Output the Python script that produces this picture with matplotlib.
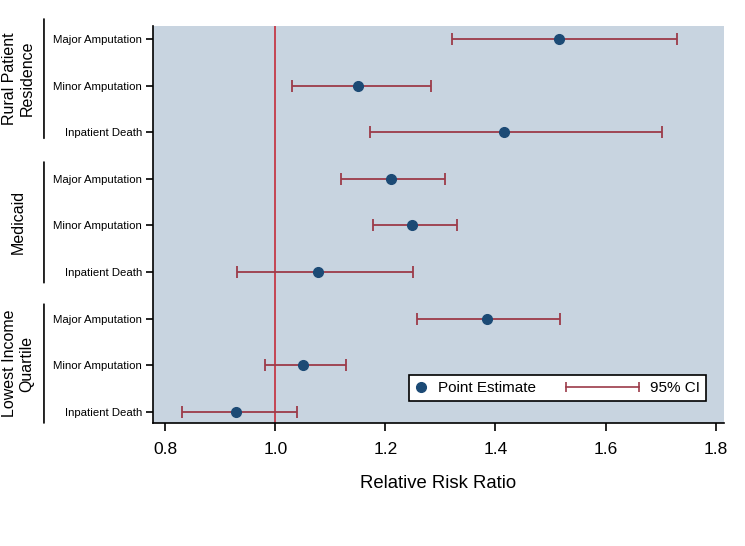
import matplotlib.pyplot as plt
from matplotlib.lines import Line2D
from matplotlib.legend_handler import HandlerBase

plt.rcParams["font.family"] = ["Liberation Sans", "DejaVu Sans"]

# rows from top to bottom
groups = ["Rural Patient\nResidence", "Medicaid", "Lowest Income\nQuartile"]
outcomes = ["Major Amputation", "Minor Amputation", "Inpatient Death"]

estimate = [1.515, 1.150, 1.416,
            1.210, 1.249, 1.078,
            1.384, 1.050, 0.928]
ci_low = [1.321, 1.031, 1.172,
          1.120, 1.178, 0.930,
          1.258, 0.981, 0.831]
ci_high = [1.730, 1.282, 1.702,
           1.308, 1.330, 1.250,
           1.517, 1.129, 1.040]

x_ticks = [0.8, 1.0, 1.2, 1.4, 1.6, 1.8]

BG = "#c8d4e0"
CI_COLOR = "#9c3b49"
REF_COLOR = "#c43a48"
DOT_COLOR = "#1c4a75"


class CIHandler(HandlerBase):
    # long capped line that reaches left past the small handle box
    def create_artists(self, legend, orig_handle, xdescent, ydescent,
                       width, height, fontsize, trans):
        x1 = width - xdescent
        x0 = x1 - 52
        y = height / 2 - ydescent
        line = Line2D([x0, x1], [y, y], color=CI_COLOR, linewidth=1.2)
        caps = Line2D([x0, x1], [y, y], linestyle="none", marker="|",
                      markersize=7, markeredgewidth=1.2, color=CI_COLOR)
        line.set_transform(trans)
        caps.set_transform(trans)
        return [line, caps]


n = len(estimate)
ypos = list(range(n, 0, -1))
labels = outcomes * len(groups)

fig = plt.figure(figsize=(7.45, 5.46), dpi=100)
ax = fig.add_axes([0.2054, 0.2253, 0.7664, 0.7271])
ax.set_facecolor(BG)

ax.axvline(1.0, color=REF_COLOR, linewidth=1.3, zorder=1)

xerr = [[e - lo for e, lo in zip(estimate, ci_low)],
        [hi - e for e, hi in zip(estimate, ci_high)]]
ci = ax.errorbar(estimate, ypos, xerr=xerr, fmt="none",
                 ecolor=CI_COLOR, elinewidth=1.3, capsize=4.5,
                 capthick=1.3, zorder=2)
dots, = ax.plot(estimate, ypos, "o", color=DOT_COLOR, markersize=7,
                zorder=3)

ax.set_xlim(0.778, 1.815)
ax.set_ylim(0.76, 9.28)
ax.set_xticks(x_ticks)
ax.set_xticklabels([f"{t:.1f}" for t in x_ticks], fontsize=12.5)
ax.set_yticks(ypos)
ax.set_yticklabels(labels, fontsize=8.2)
ax.tick_params(axis="x", length=6, width=1.2, pad=8)
ax.tick_params(axis="y", length=5, width=1.2, pad=3)

for s in ["top", "right"]:
    ax.spines[s].set_visible(False)
for s in ["left", "bottom"]:
    ax.spines[s].set_linewidth(1.2)

ax.set_xlabel("Relative Risk Ratio", fontsize=13.3, labelpad=13)

# group brackets and labels on the left
top_pad = [0.43, 0.36, 0.31]
bottom_pad = [0.13, 0.23, 0.24]
for i, g in enumerate(groups):
    top = ypos[3 * i] + top_pad[i]
    bottom = ypos[3 * i + 2] - bottom_pad[i]
    ax.annotate("", xy=(-0.191, bottom), xytext=(-0.191, top),
                xycoords=("axes fraction", "data"),
                textcoords=("axes fraction", "data"),
                arrowprops=dict(arrowstyle="-", color="black",
                                linewidth=1.2, shrinkA=0, shrinkB=0),
                annotation_clip=False)
    ax.text(-0.236, (top + bottom) / 2, g,
            transform=ax.get_yaxis_transform(),
            rotation=90, ha="center", va="center", fontsize=11.5,
            linespacing=1.2)

leg = ax.legend([dots, ci], ["Point Estimate", "95% CI"], ncol=2,
                loc="lower right", bbox_to_anchor=(0.968, 0.055),
                borderaxespad=0, fontsize=11, fancybox=False,
                framealpha=1, edgecolor="black", handlelength=0.8,
                handletextpad=0.72, columnspacing=5.9, borderpad=0.4,
                handler_map={type(ci): CIHandler()})
leg.get_frame().set_linewidth(1.2)

fig.savefig("out.png", dpi=100)
